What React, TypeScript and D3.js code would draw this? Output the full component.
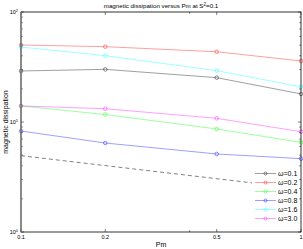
import { useEffect, useRef } from "react";
import * as d3 from "d3";

const pmValues = [0.1, 0.2, 0.5, 1];

const omegaLabels = ["ω=0.1", "ω=0.2", "ω=0.4", "ω=0.8", "ω=1.6", "ω=3.0"];
const omegaColors = ["#000000", "#ff0000", "#00ff00", "#0000ff", "#00ffff", "#ff00ff"];

const dissOmega01 = [29.1, 30.1, 25.3, 18.0];
const dissOmega02 = [50.1, 48.4, 43.5, 35.9];
const dissOmega04 = [14.0, 11.7, 8.64, 6.53];
const dissOmega08 = [8.28, 6.44, 5.12, 4.64];
const dissOmega16 = [48.0, 40.1, 29.3, 20.9];
const dissOmega30 = [14.0, 13.2, 10.8, 8.16];

const seriesValues = [dissOmega01, dissOmega02, dissOmega04, dissOmega08, dissOmega16, dissOmega30];

// dashed reference line (end points)
const refPm = [0.1, 1];
const refDiss = [4.94, 2.48];

const xTicks = [0.1, 0.2, 0.5, 1];
const xTickLabels = ["0.1", "0.2", "0.5", "1"];
const xMinorTicks = [0.4];
const yDecades = [1, 10, 100];
const yDecadeExp = ["0", "1", "2"];

const W = 303;
const H = 249;
const FONT = "'Liberation Sans', Arial, sans-serif";

export default function App() {
  const svgRef = useRef<SVGSVGElement>(null);

  useEffect(() => {
    if (!svgRef.current) return;
    const svg = d3.select(svgRef.current);
    svg.selectAll("*").remove();

    const margin = { top: 12, right: 2, bottom: 17, left: 21 };
    const width = W - margin.left - margin.right;
    const height = H - margin.top - margin.bottom;

    const x = d3.scaleLog().domain([0.1, 1]).range([0, width]);
    const y = d3.scaleLog().domain([1, 100]).range([height, 0]);

    svg.append("rect").attr("width", W).attr("height", H).attr("fill", "#fff");

    const g = svg.append("g").attr("transform", `translate(${margin.left},${margin.top})`);

    // minor y ticks (2..9 per decade) on left and right
    const yMinor: number[] = [];
    [1, 10].forEach((d) => {
      for (let k = 2; k <= 9; k++) yMinor.push(d * k);
    });

    const ticks = g.append("g").attr("stroke", "#000").attr("stroke-width", 0.5);
    yMinor.forEach((v) => {
      ticks.append("line").attr("x1", 0).attr("x2", 1.8).attr("y1", y(v)).attr("y2", y(v));
      ticks.append("line").attr("x1", width).attr("x2", width - 1.8).attr("y1", y(v)).attr("y2", y(v));
    });
    yDecades.forEach((v) => {
      ticks.append("line").attr("x1", 0).attr("x2", 3).attr("y1", y(v)).attr("y2", y(v));
      ticks.append("line").attr("x1", width).attr("x2", width - 3).attr("y1", y(v)).attr("y2", y(v));
    });
    xTicks.concat(xMinorTicks).forEach((v) => {
      const len = xMinorTicks.includes(v) ? 1.8 : 3;
      ticks.append("line").attr("x1", x(v)).attr("x2", x(v)).attr("y1", height).attr("y2", height - len);
      ticks.append("line").attr("x1", x(v)).attr("x2", x(v)).attr("y1", 0).attr("y2", len);
    });

    // reference dashed line
    g.append("path")
      .datum(refPm.map((p, i) => [p, refDiss[i]] as [number, number]))
      .attr("fill", "none")
      .attr("stroke", "#000")
      .attr("stroke-width", 0.5)
      .attr("stroke-dasharray", "4,3")
      .attr("d", d3.line<[number, number]>().x((d) => x(d[0])).y((d) => y(d[1])));

    const line = d3
      .line<number>()
      .x((_, i) => x(pmValues[i]))
      .y((d) => y(d));

    seriesValues.forEach((vals, si) => {
      const c = omegaColors[si];
      const s = g.append("g").attr("opacity", 0.75);
      s.append("path")
        .datum(vals)
        .attr("fill", "none")
        .attr("stroke", c)
        .attr("stroke-width", 0.5)
        .attr("d", line);
      s.selectAll("circle")
        .data(vals)
        .join("circle")
        .attr("cx", (_, i) => x(pmValues[i]))
        .attr("cy", (d) => y(d))
        .attr("r", 1.8)
        .attr("fill", "none")
        .attr("stroke", c)
        .attr("stroke-width", 0.6);
    });

    // legend
    const leg = g.append("g").attr("transform", `translate(${width - 49},${154})`);
    leg.append("rect").attr("x", 0).attr("y", 0).attr("width", 47).attr("height", 60).attr("fill", "#fff");
    omegaLabels.forEach((lab, i) => {
      const ly = 7.5 + i * 9;
      const c = omegaColors[i];
      const e = leg.append("g").attr("opacity", 0.75);
      e.append("line").attr("x1", 3).attr("x2", 24).attr("y1", ly).attr("y2", ly)
        .attr("stroke", c).attr("stroke-width", 0.5);
      e.append("circle").attr("cx", 13.5).attr("cy", ly).attr("r", 1.5)
        .attr("fill", "none").attr("stroke", c).attr("stroke-width", 0.6);
      leg.append("text").attr("x", 26).attr("y", ly + 2.5)
        .attr("font-family", FONT).attr("font-size", 7).attr("fill", "#000").text(lab);
    });

    // axes box
    g.append("rect").attr("width", width).attr("height", height)
      .attr("fill", "none").attr("stroke", "#000").attr("stroke-width", 0.8);
    g.append("line").attr("x1", 0).attr("x2", 0).attr("y1", 0).attr("y2", height)
      .attr("stroke", "#808080").attr("stroke-width", 1.3);

    // x tick labels
    xTicks.forEach((v, i) => {
      g.append("text").attr("x", x(v)).attr("y", height + 7)
        .attr("text-anchor", "middle").attr("font-family", FONT).attr("font-size", 5.5)
        .attr("fill", "#000").text(xTickLabels[i]);
    });

    // y tick labels 10^n
    yDecades.forEach((v, i) => {
      const t = g.append("text").attr("x", -3).attr("y", y(v) + 2)
        .attr("text-anchor", "end").attr("font-family", FONT).attr("font-size", 5.5).attr("fill", "#000");
      t.append("tspan").text("10");
      t.append("tspan").attr("font-size", 4).attr("dy", -2.5).text(yDecadeExp[i]);
    });

    // title
    const title = svg.append("text").attr("x", margin.left + width / 2).attr("y", 8)
      .attr("text-anchor", "middle").attr("font-family", FONT).attr("font-size", 6.2).attr("fill", "#000");
    title.append("tspan").text("magnetic dissipation versus Pm at S");
    title.append("tspan").attr("font-size", 4.5).attr("dy", -2.5).text("2");
    title.append("tspan").attr("dy", 2.5).text("=0.1");

    // axis labels
    svg.append("text").attr("x", margin.left + width / 2).attr("y", H - 2)
      .attr("text-anchor", "middle").attr("font-family", FONT).attr("font-size", 7).attr("fill", "#000")
      .text("Pm");
    svg.append("text")
      .attr("transform", `translate(8,${margin.top + height / 2}) rotate(-90)`)
      .attr("text-anchor", "middle").attr("font-family", FONT).attr("font-size", 7).attr("fill", "#000")
      .text("magnetic dissipation");
  }, []);

  return (
    <svg
      ref={svgRef}
      width={W}
      height={H}
      style={{ position: "absolute", left: 0, top: 0, display: "block" }}
    />
  );
}
